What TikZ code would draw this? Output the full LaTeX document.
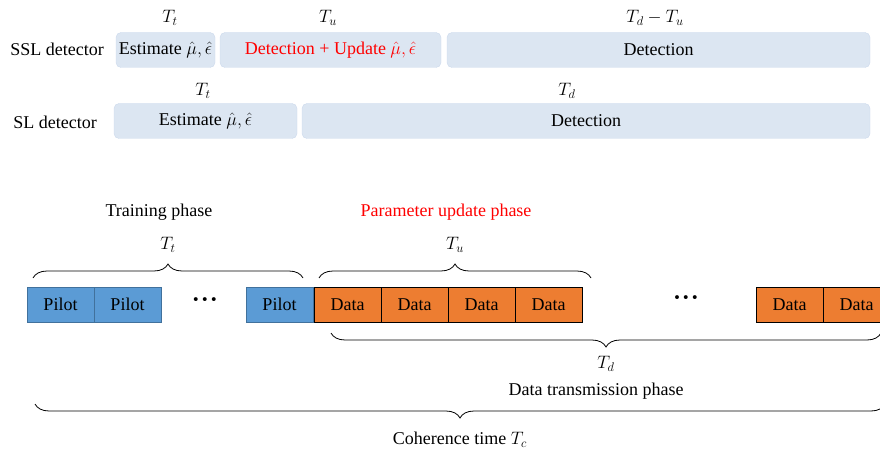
\RequirePackage{fix-cm}
\documentclass[tikz,border=0pt]{standalone}
\usepackage{fontspec}
\setmainfont{Liberation Serif}
\usetikzlibrary{decorations.pathreplacing}
\definecolor{phasefill}{RGB}{220,230,242}
\definecolor{phaseedge}{RGB}{204,217,236}
\definecolor{pilotblue}{RGB}{91,155,213}
\definecolor{pilotedge}{RGB}{65,113,156}
\definecolor{dataorange}{RGB}{237,125,49}
\tikzset{
  phase/.style={draw=phaseedge,fill=phasefill,rounded corners=5pt,minimum height=35pt,inner sep=0pt},
  slot/.style={minimum width=67pt,minimum height=35pt,inner sep=0pt,line width=0.8pt},
  pilot/.style={slot,fill=pilotblue,draw=pilotedge},
  data/.style={slot,fill=dataorange,draw=black},
  dots/.style={font=\bfseries\fontsize{24}{24}\selectfont},
  brc/.style={decorate,decoration={brace,amplitude=14pt},line width=0.8pt},
}
\begin{document}
\begin{tikzpicture}[x=1pt,y=-1pt,font=\fontsize{18}{21}\selectfont]
        \useasboundingbox (0,0) rectangle (880,449);
        \clip (0,0) rectangle (880,449);
        % detectors
        \node (ssl) at (57,49) {SSL detector};
        \node (sl) at (55,122) {SL detector};
        \node[phase,minimum width=99pt] (sslest) at (165.5,50) {Estimate $\hat{\mu},\hat{\epsilon}$};
        \node[phase,minimum width=221pt,text=red] (sslupd) at (330.5,50) {Detection + Update $\hat{\mu},\hat{\epsilon}$};
        \node[phase,minimum width=423pt] (ssldet) at (658.5,50) {Detection};
        \node[phase,minimum width=183pt] (slest) at (205.5,121) {Estimate $\hat{\mu},\hat{\epsilon}$};
        \node[phase,minimum width=568pt] (sldet) at (586,121) {Detection};
        \foreach \nm/\x/\y/\l in
            { sslTt/170/18/{T_t}
            , sslTu/328/18/{T_u}
            , sslTdu/655/18/{T_d-T_u}
            , slTt/203/91/{T_t}
            , slTd/567/91/{T_d}
            }
        {\node (\nm) at (\x,\y) {$\l$};}
        % frame
        \node (train) at (159,212) {Training phase};
        \node[text=red] (upd) at (446,212) {Parameter update phase};
        \foreach \x[count=\i] in {60.5,127.5,279.5}
        {\node[pilot] (p\i) at (\x,304.5) {Pilot};}
        \foreach \x[count=\i] in {347.5,414.5,481.5,548.5,789.5,856.5}
        {\node[data] (d\i) at (\x,304.5) {Data};}
        \node[dots] (dots1) at (205,303) {·\kern1pt·\kern1pt·};
        \node[dots] (dots2) at (686,301) {·\kern1pt·\kern1pt·};
        % braces
        \coordinate (trL) at (33,278);
        \coordinate (trR) at (303,278);
        \coordinate (upL) at (319,278);
        \coordinate (upR) at (591,278);
        \coordinate (daL) at (331,333);
        \coordinate (daR) at (881,333);
        \coordinate (coL) at (35,404);
        \coordinate (coR) at (885,404);
        \draw[brc] (trL) -- (trR);
        \draw[brc] (upL) -- (upR);
        \draw[brc] (daR) -- (daL);
        \draw[brc] (coR) -- (coL);
        \node (Tt) at (168,245) {$T_t$};
        \node (Tu) at (455,245) {$T_u$};
        \node (Td) at (606,364) {$T_d$};
        \node (trans) at (596,391) {Data transmission phase};
        \node (coh) at (460,440) {Coherence time $T_c$};
\end{tikzpicture}
\end{document}
